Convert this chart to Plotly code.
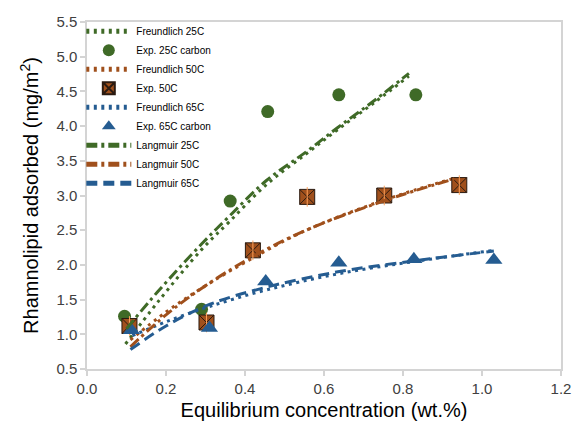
import plotly.graph_objects as go

# Experimental data
x_exp25 = [0.095, 0.29, 0.3625, 0.4575, 0.6375, 0.8325]
y_exp25 = [1.26, 1.36, 2.92, 4.21, 4.45, 4.45]
x_exp50 = [0.1075, 0.3025, 0.42, 0.5575, 0.7525, 0.9425]
y_exp50 = [1.12, 1.17, 2.21, 2.98, 3.0, 3.15]
x_exp65 = [0.1125, 0.31, 0.4525, 0.6375, 0.8275, 1.03]
y_exp65 = [1.06, 1.09, 1.76, 2.03, 2.08, 2.07]

# Model curves
x_f25 = [0.0975, 0.18, 0.29, 0.36, 0.455, 0.555, 0.635, 0.73, 0.815]
y_f25 = [0.86, 1.47, 2.22, 2.62, 3.16, 3.6, 3.95, 4.35, 4.72]
x_l25 = [0.1, 0.18, 0.29, 0.36, 0.455, 0.555, 0.635, 0.73, 0.815]
y_l25 = [1.08, 1.62, 2.3, 2.7, 3.22, 3.63, 3.98, 4.38, 4.76]

x_f50 = [0.11, 0.2, 0.3, 0.42, 0.555, 0.75, 0.93]
y_f50 = [0.92, 1.32, 1.7, 2.1, 2.5, 2.93, 3.25]
x_l50 = [0.11, 0.2, 0.3, 0.42, 0.555, 0.75, 0.93]
y_l50 = [0.82, 1.28, 1.7, 2.12, 2.5, 2.92, 3.24]

x_f65 = [0.115, 0.2, 0.31, 0.455, 0.635, 0.83, 1.03]
y_f65 = [0.98, 1.18, 1.4, 1.64, 1.87, 2.05, 2.21]
x_l65 = [0.11, 0.2, 0.31, 0.455, 0.635, 0.83, 1.03]
y_l65 = [0.78, 1.12, 1.43, 1.68, 1.9, 2.06, 2.2]

GREEN = "#3f6a27"
ORANGE = "#a0501c"
BLUE = "#255c91"

DOT = "3px,4.5px"
LDD = "11px,4px,3px,4px"
DASH = "11px,6px"
FONT = "Liberation Sans, Arial"

fig = go.Figure()

fig.add_trace(go.Scatter(x=x_f25, y=y_f25, mode="lines", name="Freundlich 25C",
                         line=dict(color=GREEN, width=3, dash=DOT, shape="spline")))
fig.add_trace(go.Scatter(x=x_exp25, y=y_exp25, mode="markers", name="Exp. 25C carbon",
                         marker=dict(symbol="circle", size=13, color=GREEN)))
fig.add_trace(go.Scatter(x=x_f50, y=y_f50, mode="lines", name="Freundlich 50C",
                         line=dict(color=ORANGE, width=3, dash=DOT, shape="spline")))
fig.add_trace(go.Scatter(x=x_exp50, y=y_exp50, mode="markers", name="Exp. 50C",
                         marker=dict(symbol="square-x", size=15, color=ORANGE,
                                     line=dict(color="#2a1a10", width=1))))
fig.add_trace(go.Scatter(x=x_exp50, y=y_exp50, mode="markers", showlegend=False,
                         hoverinfo="skip",
                         marker=dict(symbol="line-ns-open", size=14,
                                     line=dict(color="#2a1a10", width=1))))
fig.add_trace(go.Scatter(x=x_f65, y=y_f65, mode="lines", name="Freundlich 65C",
                         line=dict(color=BLUE, width=3, dash=DOT, shape="spline")))
fig.add_trace(go.Scatter(x=x_exp65, y=y_exp65, mode="markers", name="Exp. 65C carbon",
                         marker=dict(symbol="triangle-up", size=15, color=BLUE)))
fig.add_trace(go.Scatter(x=x_l25, y=y_l25, mode="lines", name="Langmuir 25C",
                         line=dict(color=GREEN, width=3, dash=LDD, shape="spline")))
fig.add_trace(go.Scatter(x=x_l50, y=y_l50, mode="lines", name="Langmuir 50C",
                         line=dict(color=ORANGE, width=3, dash=LDD, shape="spline")))
fig.add_trace(go.Scatter(x=x_l65, y=y_l65, mode="lines", name="Langmuir 65C",
                         line=dict(color=BLUE, width=3, dash=DASH, shape="spline")))

axis_common = dict(showgrid=False, zeroline=False, showline=True, mirror=True,
                   linecolor="#d4d4d4", linewidth=1.5, ticks="outside", ticklen=5,
                   tickcolor="#d4d4d4", tickwidth=1.5,
                   tickfont=dict(family=FONT, size=15, color="#404040"))

fig.update_xaxes(range=[0, 1.2], dtick=0.2, tickformat=".1f",
                 title=dict(text="Equilibrium concentration (wt.%)", standoff=7,
                            font=dict(family=FONT, size=20, color="#000000")),
                 **axis_common)
fig.update_yaxes(range=[0.5, 5.5], dtick=0.5, tickformat=".1f",
                 title=dict(text="Rhamnolipid adsorbed (mg/m<sup>2</sup>)", standoff=12,
                            font=dict(family=FONT, size=20, color="#000000")),
                 **axis_common)

fig.update_layout(
    width=583, height=431,
    margin=dict(l=87, r=16, t=22, b=62),
    plot_bgcolor="white", paper_bgcolor="white",
    showlegend=True,
    legend=dict(x=-0.012, y=1.015, xanchor="left", yanchor="top",
                bgcolor="rgba(255,255,255,0)",
                font=dict(family=FONT, size=10, color="#000000"),
                itemwidth=45, tracegroupgap=0, itemsizing="constant"),
)

fig.write_html("out.html")
